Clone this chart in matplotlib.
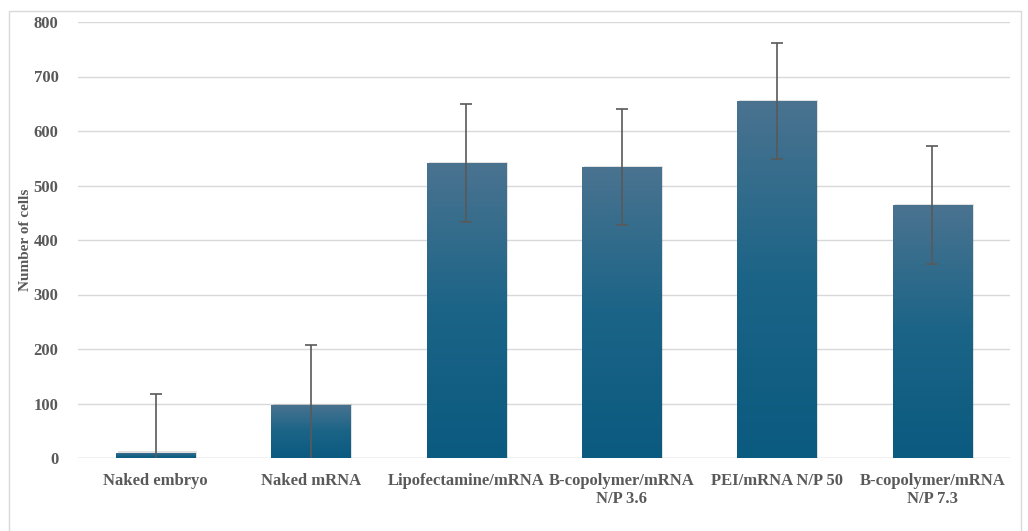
import matplotlib.pyplot as plt
import numpy as np
from matplotlib.colors import LinearSegmentedColormap
from matplotlib.patches import Rectangle

labels = ["Naked embryo", "Naked mRNA", "Lipofectamine/mRNA",
          "B-copolymer/mRNA\nN/P 3.6", "PEI/mRNA N/P 50", "B-copolymer/mRNA\nN/P 7.3"]
values = [10, 98, 541, 534, 655, 464]
errors = [108, 109, 108, 107, 106, 108]

plt.rcParams['font.family'] = ['Liberation Serif', 'DejaVu Serif']
grey = "#595959"

fig = plt.figure(figsize=(10.28, 5.31), dpi=100)
# light frame around the chart
fig.patches.append(Rectangle((0.009, -0.01), 0.984, 0.99, transform=fig.transFigure,
                             fill=False, edgecolor="#d9d9d9", lw=1))
ax = fig.add_axes([78 / 1028, 1 - 458 / 531, 932 / 1028, 436 / 531])

x = np.arange(len(labels))
width = 0.51
ax.set_xlim(-0.5, len(labels) - 0.5)
ax.set_ylim(0, 800)

# gradient fill: lighter at the top, darker at the bottom
cmap = LinearSegmentedColormap.from_list("bar", ["#0b5a80", "#1b6487", "#4a7390"])
grad = np.linspace(0, 1, 256).reshape(-1, 1)
bars = ax.bar(x, values, width, color="none", zorder=2)
for b in bars:
    # small shadow
    sh = Rectangle((b.get_x() + 0.012, 0), b.get_width(), b.get_height() + 2,
                   facecolor="#000000", alpha=0.12, lw=0, zorder=1.5)
    ax.add_patch(sh)
    h = b.get_height()
    im = ax.imshow(grad, cmap=cmap, aspect="auto", origin="lower",
                   extent=[b.get_x(), b.get_x() + b.get_width(), 0, max(h, 1)],
                   zorder=2)
    im.set_clip_path(b)

ax.errorbar(x, values, yerr=errors, fmt="none", ecolor=grey, elinewidth=1.2,
            capsize=4, capthick=1.2, zorder=3)

ax.set_yticks(range(0, 801, 100))
ax.yaxis.grid(True, color="#d9d9d9", lw=1)
ax.set_axisbelow(True)
for s in ax.spines.values():
    s.set_visible(False)
ax.axhline(0, color="#d9d9d9", lw=1, zorder=1)
ax.tick_params(length=0)
ax.tick_params(axis="y", labelsize=12, labelcolor=grey, pad=14)
ax.set_xticks(x)
ax.set_xticklabels(labels, fontsize=12, color=grey, fontweight="bold", linespacing=1.15)
ax.tick_params(axis="x", pad=11)
for t in ax.get_yticklabels():
    t.set_fontweight("bold")
ax.set_ylabel("Number of cells", fontsize=11, color=grey, fontweight="bold")
ax.yaxis.set_label_coords(-0.049, 0.5)

fig.savefig("out.png", dpi=100)
